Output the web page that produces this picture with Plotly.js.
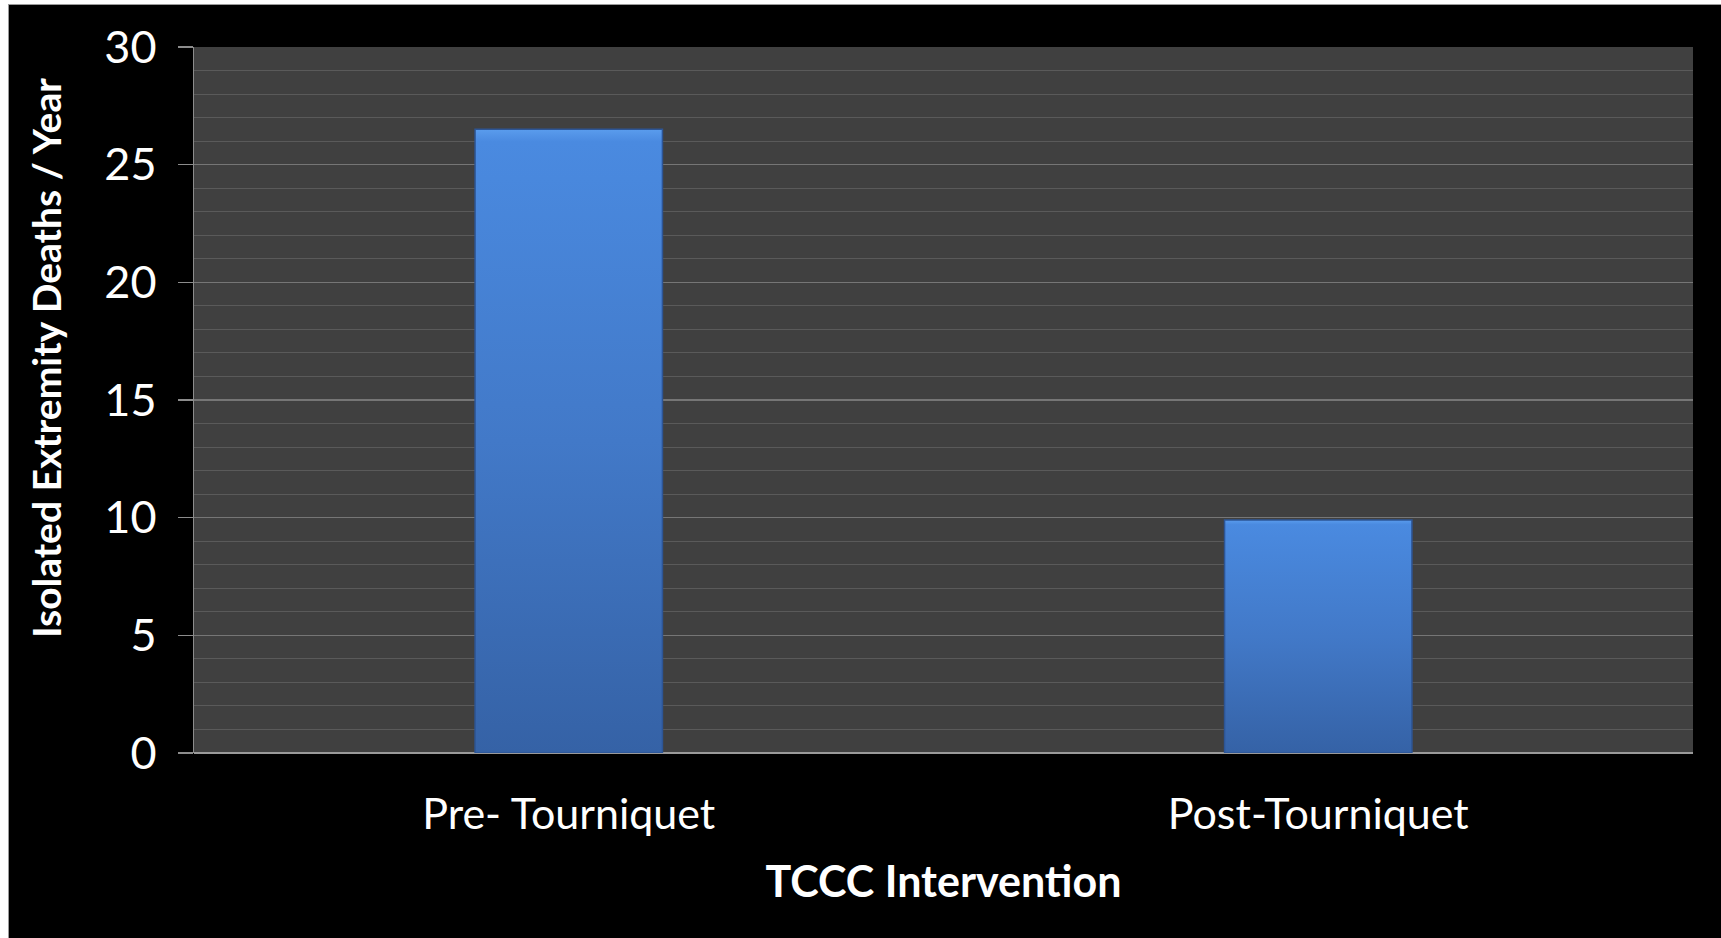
<!DOCTYPE html>
<html>
<head>
<meta charset="utf-8">
<script src="https://cdn.plot.ly/plotly-3.0.1.min.js"></script>
<style>
  html, body { margin: 0; padding: 0; background: #ffffff; width: 1721px; height: 938px; overflow: hidden; }
  #chart {
    position: absolute; left: 8px; top: 4px;
    width: 1712px; height: 933px;
    border-left: 1px solid #9a9a9a; border-top: 1px solid #9a9a9a;
    background: #000000;
  }
</style>
</head>
<body>
<div id="chart"></div>
<script>
// Isolated extremity deaths per year, before and after tourniquet use
const categories = ["Pre- Tourniquet", "Post-Tourniquet"];
const deathsPerYear = [26.5, 9.9];
const yTickValues = [0, 5, 10, 15, 20, 25, 30];

const fontFamily = "Lato, 'Open Sans', 'DejaVu Sans', sans-serif";

const trace = {
  type: "bar",
  x: categories,
  y: deathsPerYear,
  marker: {
    color: "#4079c8",
    line: { color: "#2d5595", width: 1.5 }
  },
  hoverinfo: "x+y"
};

const layout = {
  width: 1712,
  height: 933,
  margin: { l: 185, r: 28, t: 42, b: 185 },
  paper_bgcolor: "#000000",
  plot_bgcolor: "#404040",
  bargap: 0.75,
  showlegend: false,
  font: { family: fontFamily, color: "#ffffff" },
  xaxis: {
    type: "category",
    showgrid: false,
    ticks: "",
    tickfont: { family: fontFamily, size: 43, color: "#ffffff" },
    ticklabelstandoff: 32,
    showline: false,
    title: {
      text: "<b>TCCC Intervention</b>",
      font: { family: fontFamily, size: 43, color: "#ffffff" },
      standoff: 29
    }
  },
  yaxis: {
    range: [0, 30],
    tickmode: "array",
    tickvals: yTickValues,
    ticktext: yTickValues.map(String),
    tickfont: { family: fontFamily, size: 45, color: "#ffffff" },
    ticks: "outside",
    ticklen: 15,
    tickwidth: 1.5,
    tickcolor: "#8c8c8c",
    ticklabelstandoff: 12,
    showline: true,
    linecolor: "#8c8c8c",
    linewidth: 1.5,
    showgrid: true,
    gridcolor: "#767676",
    gridwidth: 1.2,
    zeroline: true,
    zerolinecolor: "#9a9a9a",
    zerolinewidth: 2,
    minor: {
      dtick: 1,
      showgrid: true,
      gridcolor: "#5a5a5a",
      gridwidth: 1,
      ticks: ""
    }
  },
  annotations: [{
    text: "<b>Isolated Extremity Deaths / Year</b>",
    xref: "paper", yref: "paper",
    x: -0.0987, y: 0.5595,
    xanchor: "center", yanchor: "middle",
    textangle: -90,
    showarrow: false,
    font: { family: fontFamily, size: 39, color: "#ffffff" }
  }]
};

Plotly.newPlot("chart", [trace], layout, { displayModeBar: false, staticPlot: true }).then(function (gd) {
  // Vertical shading on the bars: lighter blue at the top, deeper blue at the base
  const svg = gd.querySelector("svg.main-svg");
  const ns = "http://www.w3.org/2000/svg";
  let defs = svg.querySelector("defs");
  if (!defs) { defs = document.createElementNS(ns, "defs"); svg.insertBefore(defs, svg.firstChild); }
  const grad = document.createElementNS(ns, "linearGradient");
  grad.setAttribute("id", "barShade");
  grad.setAttribute("x1", "0"); grad.setAttribute("y1", "0");
  grad.setAttribute("x2", "0"); grad.setAttribute("y2", "1");
  [["0", "#5a9ced"], ["0.02", "#4a8ae0"], ["0.5", "#4279c8"], ["1", "#3562a6"]].forEach(function (s) {
    const stop = document.createElementNS(ns, "stop");
    stop.setAttribute("offset", s[0]);
    stop.setAttribute("stop-color", s[1]);
    grad.appendChild(stop);
  });
  defs.appendChild(grad);
  gd.querySelectorAll(".barlayer .point path").forEach(function (p) {
    p.style.fill = "url(#barShade)";
  });
});
</script>
</body>
</html>
